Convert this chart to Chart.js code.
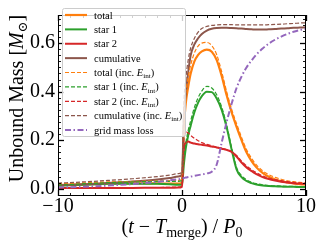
<!DOCTYPE html>
<html><head><meta charset="utf-8">
<script src="https://cdn.jsdelivr.net/npm/chart.js@4/dist/chart.umd.min.js"></script>
<style>html,body{margin:0;padding:0;background:#fff}canvas{display:block}</style>
</head><body>
<canvas id="c" width="320" height="240" style="width:320px;height:240px"></canvas>
<script>
// ---- data ----
const times = [-10,-8,-6,-4,-2,-1,-0.3,0,0.15,0.3,0.5,0.7,1.0,1.3,1.6,2.0,2.4,2.8,3.2,3.6,4.0,4.4,4.8,5.2,5.6,6.0,6.5,7.0,7.5,8.0,8.5,9.0,9.5,10];
const total = [0.015,0.018,0.021,0.022,0.022,0.021,0.021,0.026,0.25,0.35,0.42,0.475,0.525,0.552,0.566,0.573,0.565,0.53,0.465,0.385,0.315,0.255,0.2,0.15,0.115,0.088,0.065,0.049,0.038,0.031,0.026,0.022,0.019,0.017];
const star1 = [0.012,0.016,0.02,0.021,0.02,0.018,0.016,0.018,0.1,0.165,0.22,0.26,0.315,0.355,0.382,0.4,0.398,0.372,0.325,0.253,0.162,0.08,0.048,0.032,0.023,0.017,0.013,0.011,0.01,0.009,0.008,0.008,0.007,0.007];
const star2 = [0.003,0.003,0.003,0.003,0.004,0.004,0.005,0.008,0.16,0.19,0.195,0.19,0.186,0.183,0.181,0.178,0.174,0.17,0.165,0.16,0.152,0.133,0.108,0.088,0.073,0.06,0.048,0.04,0.034,0.029,0.026,0.023,0.021,0.02];
const cumulative = [0.014,0.018,0.024,0.03,0.038,0.044,0.05,0.058,0.3,0.39,0.48,0.55,0.595,0.62,0.638,0.652,0.659,0.662,0.663,0.663,0.662,0.661,0.66,0.658,0.657,0.656,0.656,0.657,0.658,0.66,0.661,0.663,0.664,0.665];
const totalInt = [0.02,0.024,0.028,0.03,0.032,0.033,0.034,0.04,0.29,0.39,0.46,0.51,0.56,0.588,0.6,0.603,0.59,0.552,0.482,0.4,0.328,0.268,0.212,0.162,0.126,0.098,0.074,0.058,0.047,0.039,0.033,0.029,0.026,0.024];
const star1Int = [0.015,0.02,0.025,0.028,0.03,0.03,0.03,0.035,0.12,0.185,0.24,0.28,0.335,0.375,0.403,0.422,0.415,0.387,0.337,0.262,0.17,0.088,0.054,0.037,0.027,0.021,0.016,0.013,0.012,0.011,0.01,0.01,0.009,0.009];
const star2Int = [0.004,0.004,0.004,0.005,0.005,0.006,0.007,0.01,0.2,0.235,0.23,0.22,0.208,0.198,0.19,0.183,0.177,0.172,0.167,0.161,0.153,0.137,0.114,0.094,0.079,0.066,0.053,0.044,0.038,0.033,0.029,0.026,0.024,0.022];
const cumulativeInt = [0.023,0.028,0.034,0.041,0.05,0.056,0.062,0.07,0.35,0.45,0.53,0.58,0.62,0.645,0.66,0.669,0.673,0.675,0.676,0.676,0.676,0.675,0.675,0.675,0.675,0.675,0.675,0.676,0.677,0.678,0.68,0.681,0.683,0.684];
const gridMassLoss = [0.005,0.008,0.013,0.019,0.028,0.034,0.039,0.042,0.044,0.046,0.048,0.05,0.053,0.056,0.059,0.063,0.07,0.1,0.19,0.275,0.35,0.415,0.462,0.5,0.528,0.553,0.578,0.598,0.614,0.627,0.638,0.647,0.654,0.66];
const seriesLabels = ['total','star 1','star 2','cumulative','total (inc. E_int)','star 1 (inc. E_int)','star 2 (inc. E_int)','cumulative (inc. E_int)','grid mass loss'];
const xTicks = [-10,0,10];
const yTicks = [0,0.2,0.4,0.6];

// ---- styles ----
const C = {orange:'#ff7f0e', green:'#2ca02c', red:'#d62728', brown:'#8c564b', purple:'#9467bd'};
const seriesValues = [total,star1,star2,cumulative,totalInt,star1Int,star2Int,cumulativeInt,gridMassLoss];
const seriesStyle = [
  {c:C.orange,w:2.2,d:[]},{c:C.green,w:2,d:[]},{c:C.red,w:2,d:[]},{c:C.brown,w:2,d:[]},
  {c:C.orange,w:1.2,d:[4,2]},{c:C.green,w:1.2,d:[4,2]},{c:C.red,w:1.2,d:[4,2]},{c:C.brown,w:1.2,d:[4,2]},
  {c:C.purple,w:2,d:[6,2.5,1.5,2.5]}
];
const FONT = '"Liberation Serif", "DejaVu Serif", serif';
function fontStr(p){ return (p.italic?'italic ':'') + p.size + 'px ' + FONT; }
function richWidth(ctx, parts){ let w=0; for(const p of parts){ ctx.font=fontStr(p); w+=ctx.measureText(p.text).width; } return w; }
function drawRich(ctx, parts, x, y, align){
  const w = richWidth(ctx, parts);
  let cx = align==='center' ? x - w/2 : x;
  ctx.textBaseline='alphabetic'; ctx.textAlign='left';
  for(const p of parts){ ctx.font=fontStr(p); ctx.fillText(p.text, cx, y + (p.dy||0)); cx += ctx.measureText(p.text).width; }
}
function labelParts(label, size){
  const i = label.indexOf('E_int');
  if(i<0) return [{text:label,size}];
  return [{text:label.slice(0,i),size},{text:'E',size,italic:true},{text:'int',size:size*0.68,dy:size*0.22},{text:label.slice(i+5),size}];
}

const datasets = seriesValues.map((vals,i)=>({
  label: seriesLabels[i],
  data: times.map((t,k)=>({x:t,y:vals[k]})),
  borderColor: seriesStyle[i].c, borderWidth: seriesStyle[i].w, borderDash: seriesStyle[i].d,
  pointRadius:0, fill:false, cubicInterpolationMode:'monotone', order: seriesValues.length - i
}));

const framePlugin = {
  id:'frame',
  afterDatasetsDraw(chart){
    const {ctx, chartArea:a, scales:{x,y}} = chart;
    ctx.save(); ctx.strokeStyle='#000';
    const line=(x1,y1,x2,y2,w)=>{ctx.lineWidth=w;ctx.beginPath();ctx.moveTo(x1,y1);ctx.lineTo(x2,y2);ctx.stroke();};
    for(let v=-10; v<=10; v++){
      const px = Math.round(x.getPixelForValue(v)) + 0.5;
      const major = xTicks.includes(v); const L = major?6:3; const w = major?1.3:0.9;
      line(px,a.bottom,px,a.bottom-L,w); line(px,a.top,px,a.top+L,w);
    }
    for(let k=-1; k*0.025<=0.716; k++){
      const v = k*0.025; const py = Math.round(y.getPixelForValue(v)) + 0.5;
      const major = yTicks.some(t=>Math.abs(t-v)<1e-9); const L = major?6:3; const w = major?1.3:0.9;
      line(a.left,py,a.left+L,py,w); line(a.right,py,a.right-L,py,w);
    }
    ctx.lineWidth=1;
    ctx.strokeRect(Math.round(a.left)+0.5, Math.round(a.top)+0.5, Math.round(a.right-a.left)-1, Math.round(a.bottom-a.top)-1);
    ctx.restore();
  },
  afterDraw(chart){
    const {ctx} = chart;
    ctx.save();
    // legend
    const bx=62, by=8, bw=123, bh=128;
    ctx.fillStyle='rgba(255,255,255,0.8)'; ctx.strokeStyle='#cccccc'; ctx.lineWidth=1;
    ctx.beginPath(); ctx.roundRect(bx+0.5,by+0.5,bw,bh,2); ctx.fill(); ctx.stroke();
    chart.data.datasets.forEach((ds,i)=>{
      const cy = 15 + i*14.38;
      ctx.strokeStyle=ds.borderColor; ctx.lineWidth=ds.borderWidth; ctx.setLineDash(ds.borderDash);
      ctx.beginPath(); ctx.moveTo(65,cy); ctx.lineTo(87,cy); ctx.stroke(); ctx.setLineDash([]);
      ctx.fillStyle='#000';
      drawRich(ctx, labelParts(ds.label,10.5), 94, cy+3.5, 'left');
    });
    // axis titles
    ctx.fillStyle='#000';
    drawRich(ctx, [{text:'(',size:20},{text:'t',size:20,italic:true},{text:' \u2212 ',size:20},{text:'T',size:20,italic:true},{text:'merge',size:14,dy:4},{text:') / ',size:20},{text:'P',size:20,italic:true},{text:'0',size:14,dy:4}], 182, 233, 'center');
    ctx.translate(23, 98.5); ctx.rotate(-Math.PI/2);
    drawRich(ctx, [{text:'Unbound Mass [',size:20},{text:'M',size:20,italic:true},{text:'\u2299',size:13,dy:4},{text:']',size:20}], 0, 0, 'center');
    ctx.restore();
  }
};

new Chart(document.getElementById('c'), {
  type:'line',
  data:{datasets},
  options:{
    responsive:false, animation:false, devicePixelRatio:1,
    layout:{padding:{top:4,right:14,left:0,bottom:0}},
    plugins:{legend:{display:false}, tooltip:{enabled:false}},
    scales:{
      x:{type:'linear', min:-10, max:10,
        grid:{display:false, drawTicks:false}, border:{display:false},
        afterBuildTicks:s=>{s.ticks = xTicks.map(v=>({value:v}));},
        afterFit:s=>{s.height=44;},
        ticks:{autoSkip:false, maxRotation:0, padding:-1, color:'#000', font:{family:FONT,size:20},
          callback:v=> v<0 ? '\u2212'+Math.abs(v) : String(v)}},
      y:{type:'linear', min:-0.03, max:0.716,
        grid:{display:false, drawTicks:false}, border:{display:false},
        afterBuildTicks:s=>{s.ticks = yTicks.map(v=>({value:v}));},
        afterFit:s=>{s.width=58;},
        ticks:{autoSkip:false, padding:3, color:'#000', font:{family:FONT,size:20},
          callback:v=> Number(v).toFixed(1)}}
    }
  },
  plugins:[framePlugin]
});
</script>
</body></html>
